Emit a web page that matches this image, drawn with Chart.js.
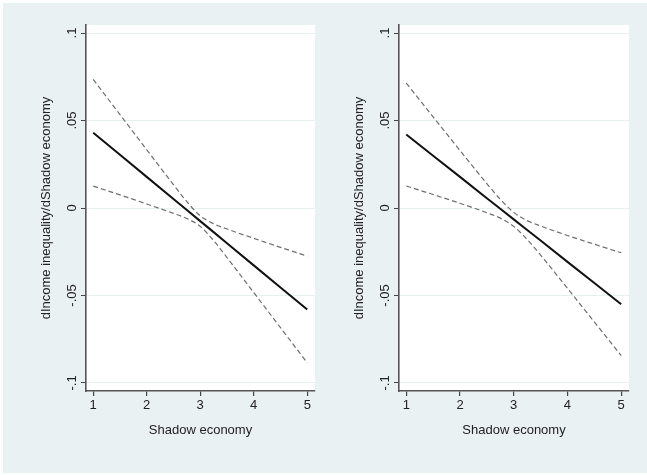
<!DOCTYPE html>
<html>
<head>
<meta charset="utf-8">
<script src="https://cdn.jsdelivr.net/npm/chart.js@4.4.1/dist/chart.umd.min.js"></script>
<style>
  html, body { margin: 0; padding: 0; background: #ffffff; }
  #bg { position: absolute; left: 3px; top: 3px; width: 644px; height: 470px; background: #eaf1f3; }
  canvas { position: absolute; top: 0; }
  #c1 { left: 0; }
  #c2 { left: 320px; }
</style>
</head>
<body>
<div id="bg"></div>
<canvas id="c1" width="320" height="475"></canvas>
<canvas id="c2" width="327" height="475"></canvas>
<script>
// ---- data ----
const xValues = [1, 1.5, 2, 2.5, 2.75, 3, 3.25, 3.5, 4, 4.5, 5];
const xTickValues = [1, 2, 3, 4, 5];
const yTickValues = [-0.1, -0.05, 0, 0.05, 0.1];
const yTickLabels = ["-.1", "-.05", "0", ".05", ".1"];
const xTitle = "Shadow economy";
const yTitle = "dIncome inequality/dShadow economy";

const leftEffect = [0.043, 0.0304, 0.0178, 0.0051, -0.0012, -0.0075, -0.0138, -0.0201, -0.0328, -0.0454, -0.058];
const leftUpper  = [0.0735, 0.0534, 0.0333, 0.0133, 0.0036, -0.0045, -0.0090, -0.0120, -0.0173, -0.0225, -0.0275];
const leftLower  = [0.0125, 0.0075, 0.0023, -0.0031, -0.0060, -0.0105, -0.0186, -0.0283, -0.0483, -0.0684, -0.0885];

const rightEffect = [0.042, 0.0299, 0.0178, 0.0056, -0.0004, -0.0065, -0.0126, -0.0186, -0.0308, -0.0429, -0.055];
const rightUpper  = [0.0714, 0.0521, 0.0329, 0.0139, 0.0050, -0.0025, -0.0072, -0.0103, -0.0157, -0.0207, -0.0256];
const rightLower  = [0.0126, 0.0077, 0.0027, -0.0027, -0.0058, -0.0105, -0.0180, -0.0269, -0.0459, -0.0651, -0.0844];

const FONT = "'Liberation Sans', Arial, Helvetica, sans-serif";

const plotBg = {
  id: 'plotBg',
  beforeDraw(chart) {
    const {ctx, chartArea: a} = chart;
    ctx.save();
    ctx.fillStyle = '#ffffff';
    ctx.fillRect(a.left, a.top, a.right - a.left, a.bottom - a.top);
    ctx.restore();
  }
};

function yLabelPlugin(offset) {
  return {
    id: 'yLabels',
    afterDraw(chart) {
      const {ctx} = chart;
      const y = chart.scales.y;
      ctx.save();
      ctx.font = '13px ' + FONT;
      ctx.fillStyle = '#222';
      ctx.textAlign = 'center';
      ctx.textBaseline = 'alphabetic';
      yTickValues.forEach((v, i) => {
        const py = y.getPixelForValue(v);
        ctx.save();
        ctx.translate(chart.chartArea.left - offset, py);
        ctx.rotate(-Math.PI / 2);
        ctx.fillText(yTickLabels[i], 0, 0);
        ctx.restore();
      });
      ctx.restore();
    }
  };
}

function makeChart(id, eff, up, lo, pad, yWidth, yTitlePad) {
  const pts = arr => xValues.map((x, i) => ({x: x, y: arr[i]}));
  const dashed = {
    borderColor: '#6e6e6e', borderWidth: 1.2, borderDash: [5, 3],
    pointRadius: 0, fill: false, cubicInterpolationMode: 'monotone'
  };
  return new Chart(document.getElementById(id), {
    type: 'line',
    data: {
      datasets: [
        Object.assign({label: 'upper', data: pts(up)}, dashed),
        Object.assign({label: 'lower', data: pts(lo)}, dashed),
        {label: 'effect', data: pts(eff), borderColor: '#111111', borderWidth: 2, pointRadius: 0, fill: false}
      ]
    },
    options: {
      responsive: false,
      animation: false,
      devicePixelRatio: 1,
      layout: {padding: {left: 0, top: 25, right: pad, bottom: 0}},
      plugins: {legend: {display: false}, tooltip: {enabled: false}},
      scales: {
        x: {
          type: 'linear', min: 0.865, max: 5.145,
          afterBuildTicks: s => { s.ticks = xTickValues.map(v => ({value: v})); },
          afterFit: s => { s.height = 84; },
          grid: {drawOnChartArea: false, drawTicks: true, tickLength: 5, tickColor: '#444', lineWidth: 1.2},
          border: {display: true, color: '#555', width: 1.6},
          ticks: {font: {family: FONT, size: 13}, color: '#222', padding: 2, maxRotation: 0, callback: v => String(v)},
          title: {display: true, text: xTitle, font: {family: FONT, size: 13}, color: '#222', padding: {top: 0, bottom: 37}}
        },
        y: {
          type: 'linear', min: -0.1046, max: 0.1046,
          afterBuildTicks: s => { s.ticks = yTickValues.map(v => ({value: v})); },
          afterFit: s => { s.width = yWidth; },
          grid: {color: '#e7eff0', lineWidth: 1, drawTicks: true, tickLength: 5, tickColor: '#444'},
          border: {display: true, color: '#555', width: 1.6},
          ticks: {display: false},
          title: {display: true, text: yTitle, font: {family: FONT, size: 13}, color: '#222', padding: {top: yTitlePad, bottom: 0}}
        }
      }
    },
    plugins: [plotBg, yLabelPlugin(10.5)]
  });
}

makeChart('c1', leftEffect, leftUpper, leftLower, 5, 86, 39);
makeChart('c2', rightEffect, rightUpper, rightLower, 18, 79, 31.5);
</script>
</body>
</html>
